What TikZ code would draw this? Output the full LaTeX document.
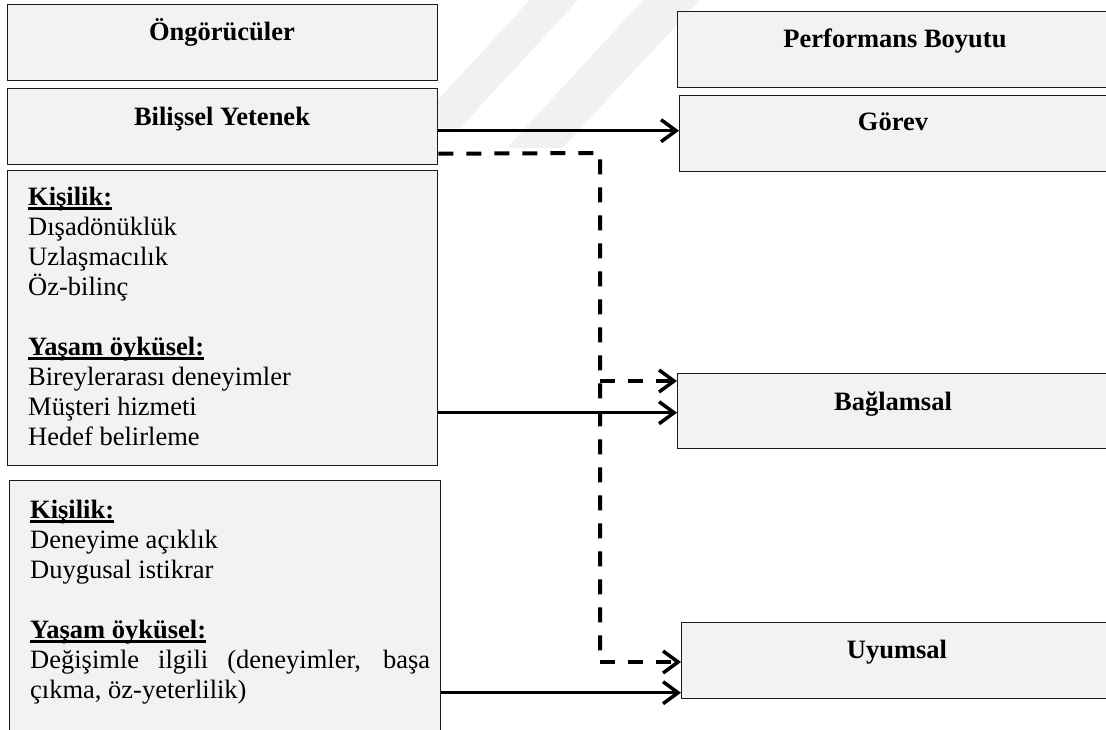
\documentclass[tikz,border=0pt]{standalone}
\usepackage{fontspec}
\setmainfont{Liberation Serif}
\usetikzlibrary{arrows.meta,calc}

\definecolor{boxfill}{HTML}{F2F2F2}
\definecolor{boxline}{HTML}{1A1A1A}
\definecolor{band}{HTML}{F1F1F1}

\newcommand{\bodyfont}{\fontsize{26.5}{30}\selectfont}

\tikzset{
  panel/.style={draw=boxline, line width=1.4pt, fill=boxfill, inner sep=0pt,
                anchor=north west, rectangle},
  title/.style={font=\bodyfont\bfseries, anchor=base, inner sep=0pt},
  listtext/.style={font=\bodyfont, anchor=base west, inner sep=0pt,
                   text width=400pt, align=justify},
  solidarrow/.style={line width=3pt, -{Straight Barb[length=15pt,width=22pt,line width=3.5pt]}},
  dasharrow/.style={line width=4pt, dash pattern=on 15pt off 13pt,
                    -{Straight Barb[length=15pt,width=22pt,line width=3.5pt]}},
  dashline/.style={line width=4pt, dash pattern=on 15pt off 13pt}
}

% bold heading with a rule just under the baseline
\newcommand{\hd}[1]{\setbox0=\hbox{\textbf{#1}}\rlap{\rule[-4.5pt]{\wd0}{2.2pt}}\box0}

\begin{document}
\begin{tikzpicture}[x=1pt, y=-1pt]
  \useasboundingbox (0,0) rectangle (1106,729);
  \clip (0,0) rectangle (1106,729);
  \fill[white] (0,0) rectangle (1106,729);

  % faint diagonal bands in the background
  \fill[band] (530,0) -- (578,0) -- (460,128) -- (412,128) -- cycle;
  \fill[band] (643,0) -- (700,0) -- (562,148) -- (507,148) -- cycle;

  % predictor column
  \node[panel, minimum width=430pt, minimum height=76pt] (ong) at (7,4) {};
  \node[panel, minimum width=430pt, minimum height=76pt] (bilis) at (7,88) {};
  \node[panel, minimum width=430pt, minimum height=295pt] (kis1) at (7,170) {};
  \node[panel, minimum width=431pt, minimum height=280pt] (kis2) at (9,480) {};

  % performance column
  \node[panel, minimum width=440pt, minimum height=76pt] (perf) at (677,11) {};
  \node[panel, minimum width=440pt, minimum height=76pt] (gorev) at (679,95) {};
  \node[panel, minimum width=440pt, minimum height=75pt] (baglam) at (677,373) {};
  \node[panel, minimum width=440pt, minimum height=76pt] (uyum) at (681,622) {};

  % titles
  \node[title] (tOng) at (222,40) {Öngörücüler};
  \node[title] (tBilis) at (222,125) {Bilişsel Yetenek};
  \node[title] (tPerf) at (895,47) {Performans Boyutu};
  \node[title] (tGorev) at (893,130) {Görev};
  \node[title] (tBaglam) at (893,410) {Bağlamsal};
  \node[title] (tUyum) at (897,658) {Uyumsal};

  % lists
  \node[listtext] (l1) at (28,205) {\hd{Kişilik:}\\
    Dışadönüklük\\
    Uzlaşmacılık\\
    Öz-bilinç\\[30pt]
    \hd{Yaşam öyküsel:}\\
    Bireylerarası deneyimler\\
    Müşteri hizmeti\\
    Hedef belirleme};
  \node[listtext] (l2) at (30,518) {\hd{Kişilik:}\\
    Deneyime açıklık\\
    Duygusal istikrar\\[30pt]
    \hd{Yaşam öyküsel:}\\
    Değişimle ilgili (deneyimler, başa\linebreak çıkma, öz-yeterlilik)};

  % connectors
  \coordinate (elbowTop) at (600,153);
  \coordinate (branch) at (600,381);
  \coordinate (elbowBot) at (600,662);

  \draw[solidarrow] ($(bilis.east)+(0,4)$) -- (gorev.west |- {$(bilis.east)+(0,4)$});
  \draw[dashline] ($(bilis.east)+(0,27)$) -- (elbowTop) -- (elbowBot);
  \draw[dasharrow] (elbowBot) -- (uyum.west |- elbowBot);
  \draw[dasharrow] (branch) -- (baglam.west |- branch);
  \draw[solidarrow] ($(kis1.east)+(0,94.5)$) -- (baglam.west |- {$(kis1.east)+(0,94.5)$});
  \draw[solidarrow] ($(kis2.east)+(0,72)$) -- (uyum.west |- {$(kis2.east)+(0,72)$});
\end{tikzpicture}
\end{document}
